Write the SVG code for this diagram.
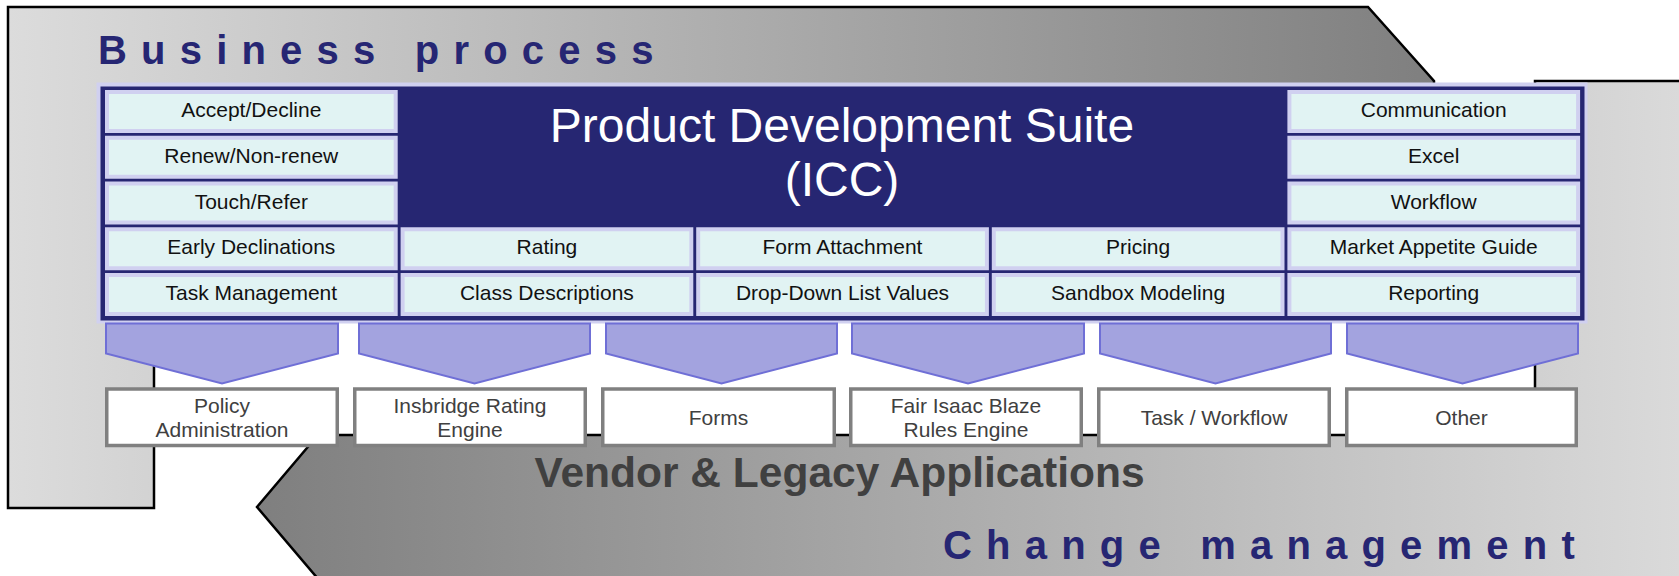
<svg xmlns="http://www.w3.org/2000/svg" width="1679" height="576" viewBox="0 0 1679 576">
<defs>
<linearGradient id="gA" gradientUnits="userSpaceOnUse" x1="8" y1="0" x2="1434" y2="0">
<stop offset="0" stop-color="#dcdcdc"/><stop offset="1" stop-color="#7f7f7f"/>
</linearGradient>
<linearGradient id="gB" gradientUnits="userSpaceOnUse" x1="257" y1="0" x2="1679" y2="0">
<stop offset="0" stop-color="#7f7f7f"/><stop offset="1" stop-color="#dadada"/>
</linearGradient>
<style>
.bg{stroke:#000;stroke-width:2.5;stroke-linejoin:miter}
.cell rect{fill:#e1f3f3;stroke:#d0d0f0;stroke-width:4}
.cell text{font-family:"Liberation Sans",Arial,sans-serif;font-size:21px;fill:#111;text-anchor:middle}
.chev{fill:#a3a3df;stroke:#6f6fd6;stroke-width:2}
.box rect{fill:#fff;stroke:#808080;stroke-width:3.5}
.box text{font-family:"Liberation Sans",Arial,sans-serif;font-size:21px;fill:#404040;text-anchor:middle}
.big{font-family:"Liberation Sans",Arial,sans-serif;font-weight:bold;font-size:40px;fill:#262673;letter-spacing:14.2px}
</style>
</defs>
<g id="business-process">
<polygon class="bg" fill="url(#gA)" points="8,7 1368,7 1434,81 1434,320 154,320 154,508 8,508"/>
<text class="big" x="98" y="64">Business process</text>
</g>
<g id="change-management">
<polygon class="bg" fill="url(#gB)" points="1535,81 1700,81 1700,580 319,580 257,507 318,435 1535,435"/>
<text x="839.5" y="486.5" font-family="Liberation Sans, Arial, sans-serif" font-weight="bold" font-size="42.5" fill="#404040" text-anchor="middle">Vendor &amp; Legacy Applications</text>
<text class="big" x="943" y="559">Change management</text>
</g>
<g id="suite">
<rect x="96.5" y="82.5" width="1491" height="241" fill="#d0d0f0"/>
<rect x="100.5" y="86.5" width="1484" height="234" fill="#262672"/>
<text x="842" y="142" font-family="Liberation Sans, Arial, sans-serif" font-size="48" fill="#fff" text-anchor="middle">Product Development Suite</text>
<text x="842" y="196" font-family="Liberation Sans, Arial, sans-serif" font-size="48" fill="#fff" text-anchor="middle">(ICC)</text>
</g>
<g id="cell-accept" class="cell"><rect x="107" y="92" width="288.7" height="39"/><text x="251.3" y="117">Accept/Decline</text></g>
<g id="cell-renew" class="cell"><rect x="107" y="137.75" width="288.7" height="39"/><text x="251.3" y="162.75">Renew/Non-renew</text></g>
<g id="cell-touch" class="cell"><rect x="107" y="183.5" width="288.7" height="39"/><text x="251.3" y="208.5">Touch/Refer</text></g>
<g id="cell-early" class="cell"><rect x="107" y="229.25" width="288.7" height="39"/><text x="251.3" y="254.25">Early Declinations</text></g>
<g id="cell-task" class="cell"><rect x="107" y="275" width="288.7" height="39"/><text x="251.3" y="300">Task Management</text></g>
<g id="cell-rating" class="cell"><rect x="402.6" y="229.25" width="288.7" height="39"/><text x="546.9" y="254.25">Rating</text></g>
<g id="cell-class" class="cell"><rect x="402.6" y="275" width="288.7" height="39"/><text x="546.9" y="300">Class Descriptions</text></g>
<g id="cell-form" class="cell"><rect x="698.2" y="229.25" width="288.7" height="39"/><text x="842.5" y="254.25">Form Attachment</text></g>
<g id="cell-dropdown" class="cell"><rect x="698.2" y="275" width="288.7" height="39"/><text x="842.5" y="300">Drop-Down List Values</text></g>
<g id="cell-pricing" class="cell"><rect x="993.8" y="229.25" width="288.7" height="39"/><text x="1138.1" y="254.25">Pricing</text></g>
<g id="cell-sandbox" class="cell"><rect x="993.8" y="275" width="288.7" height="39"/><text x="1138.1" y="300">Sandbox Modeling</text></g>
<g id="cell-comm" class="cell"><rect x="1289.4" y="92" width="288.7" height="39"/><text x="1433.7" y="117">Communication</text></g>
<g id="cell-excel" class="cell"><rect x="1289.4" y="137.75" width="288.7" height="39"/><text x="1433.7" y="162.75">Excel</text></g>
<g id="cell-workflow" class="cell"><rect x="1289.4" y="183.5" width="288.7" height="39"/><text x="1433.7" y="208.5">Workflow</text></g>
<g id="cell-market" class="cell"><rect x="1289.4" y="229.25" width="288.7" height="39"/><text x="1433.7" y="254.25">Market Appetite Guide</text></g>
<g id="cell-reporting" class="cell"><rect x="1289.4" y="275" width="288.7" height="39"/><text x="1433.7" y="300">Reporting</text></g>
<g id="connectors">
<polygon class="chev" points="106,323.5 338,323.5 338,353.5 222,383.5 106,353.5"/>
<polygon class="chev" points="359,323.5 590,323.5 590,353.5 474.5,383.5 359,353.5"/>
<polygon class="chev" points="606,323.5 837,323.5 837,353.5 721.5,383.5 606,353.5"/>
<polygon class="chev" points="852,323.5 1084,323.5 1084,353.5 968,383.5 852,353.5"/>
<polygon class="chev" points="1100,323.5 1331,323.5 1331,353.5 1215.5,383.5 1100,353.5"/>
<polygon class="chev" points="1347,323.5 1578,323.5 1578,353.5 1462.5,383.5 1347,353.5"/>
</g>
<g id="box-policy" class="box"><rect x="106.75" y="389" width="230.5" height="56.5"/><text x="222" y="413">Policy</text><text x="222" y="437">Administration</text></g>
<g id="box-insbridge" class="box"><rect x="354.75" y="389" width="230.5" height="56.5"/><text x="470" y="413">Insbridge Rating</text><text x="470" y="437">Engine</text></g>
<g id="box-forms" class="box"><rect x="602.75" y="389" width="231.5" height="56.5"/><text x="718.5" y="425">Forms</text></g>
<g id="box-fairisaac" class="box"><rect x="850.75" y="389" width="230.5" height="56.5"/><text x="966" y="413">Fair Isaac Blaze</text><text x="966" y="437">Rules Engine</text></g>
<g id="box-task" class="box"><rect x="1098.75" y="389" width="230.5" height="56.5"/><text x="1214" y="425">Task / Workflow</text></g>
<g id="box-other" class="box"><rect x="1346.75" y="389" width="229.5" height="56.5"/><text x="1461.5" y="425">Other</text></g>
</svg>
